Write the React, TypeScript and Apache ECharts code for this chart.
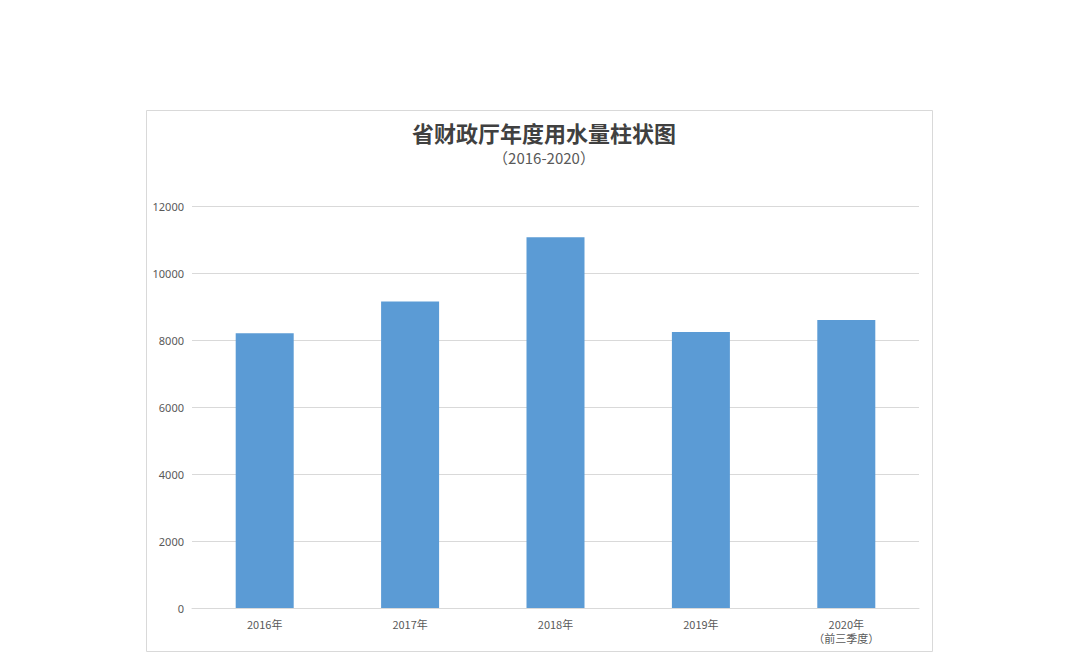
import { useEffect, useRef } from 'react';
import * as echarts from 'echarts';

const years = ['2016年', '2017年', '2018年', '2019年', '2020年\n（前三季度）'];
const waterUse = [8200, 9150, 11070, 8240, 8600];
const yTicks = { min: 0, max: 12000, interval: 2000 };

const titleText = '省财政厅年度用水量柱状图';
const subtitleText = '（2016-2020）';

export default function App() {
  const elRef = useRef<HTMLDivElement>(null);

  useEffect(() => {
    const el = elRef.current;
    if (!el) return;
    const chart = echarts.init(el, undefined, { renderer: 'svg' });

    chart.setOption({
      animation: false,
      backgroundColor: '#ffffff',
      graphic: [
        {
          type: 'rect',
          shape: { x: 146.5, y: 110.5, width: 786, height: 541 },
          style: { fill: 'none', stroke: '#d9d9d9', lineWidth: 1 },
          silent: true,
        },
      ],
      title: {
        text: titleText,
        subtext: subtitleText,
        left: 539,
        textAlign: 'center',
        top: 114,
        itemGap: 3,
        textStyle: {
          fontFamily: 'Noto Sans CJK SC',
          fontSize: 22,
          lineHeight: 26,
          fontWeight: 'bold',
          color: '#404040',
        },
        subtextStyle: {
          fontFamily: 'Noto Sans CJK SC',
          fontSize: 15,
          lineHeight: 18,
          color: '#595959',
        },
      },
      grid: { left: 192, right: 161, top: 206, bottom: 59, containLabel: false },
      xAxis: {
        type: 'category',
        data: years,
        axisLine: { lineStyle: { color: '#d9d9d9' } },
        axisTick: { show: false },
        axisLabel: {
          color: '#595959',
          fontSize: 11,
          margin: 9,
          lineHeight: 14,
          fontFamily: 'Noto Sans CJK SC',
        },
      },
      yAxis: {
        type: 'value',
        min: yTicks.min,
        max: yTicks.max,
        interval: yTicks.interval,
        axisLine: { show: false },
        axisTick: { show: false },
        splitLine: { lineStyle: { color: '#d9d9d9' } },
        axisLabel: {
          color: '#595959',
          fontSize: 11,
          margin: 8,
          fontFamily: 'Noto Sans',
          formatter: (v: number) => String(v),
        },
      },
      series: [
        {
          type: 'bar',
          data: waterUse,
          barWidth: 58,
          itemStyle: { color: '#5b9bd5' },
        },
      ],
    });

    return () => chart.dispose();
  }, []);

  return (
    <div
      ref={elRef}
      style={{ position: 'fixed', left: 0, top: 0, width: 1080, height: 667 }}
    />
  );
}
